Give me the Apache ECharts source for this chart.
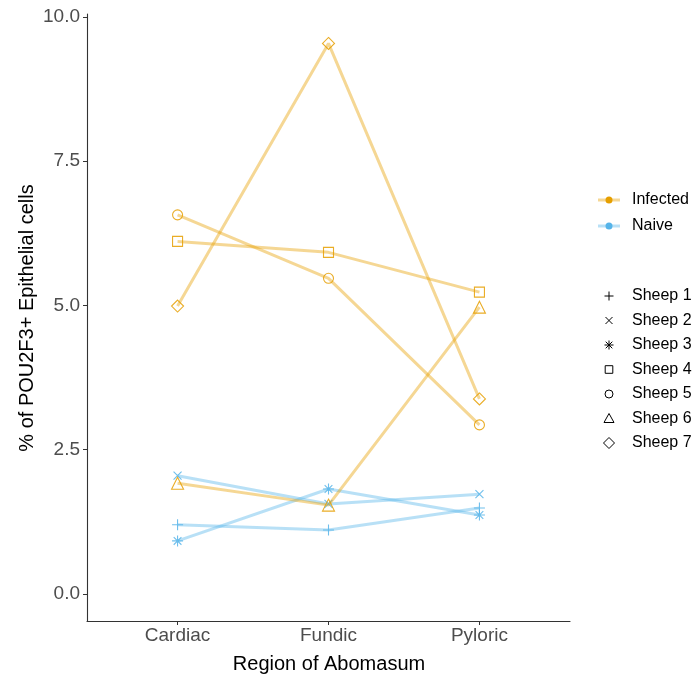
<!DOCTYPE html>
<html>
<head>
<meta charset="utf-8">
<script src="https://cdn.jsdelivr.net/npm/echarts@6/dist/echarts.min.js"></script>
<style>html,body{margin:0;padding:0;background:#fff;}#c{width:696px;height:682px;}</style>
</head>
<body>
<div id="c"></div>
<script>
// ---- data ----
const categories = ['Cardiac', 'Fundic', 'Pyloric'];
const yTicks = [0, 2.5, 5, 7.5, 10];
const groups = ['Infected', 'Naive'];
const sheepNames = ['Sheep 1', 'Sheep 2', 'Sheep 3', 'Sheep 4', 'Sheep 5', 'Sheep 6', 'Sheep 7'];
const sheepGroup = ['Naive', 'Naive', 'Naive', 'Infected', 'Infected', 'Infected', 'Infected'];
const sheep1 = [1.20, 1.11, 1.49];
const sheep2 = [2.05, 1.56, 1.73];
const sheep3 = [0.92, 1.82, 1.37];
const sheep4 = [6.11, 5.92, 5.23];
const sheep5 = [6.57, 5.47, 2.93];
const sheep6 = [1.92, 1.54, 4.97];
const sheep7 = [4.99, 9.54, 3.38];
const sheepValues = [sheep1, sheep2, sheep3, sheep4, sheep5, sheep6, sheep7];

// ---- styling ----
const groupColor = { Infected: '#E69F00', Naive: '#56B4E9' };
const P_PLUS = 'path://M5,0L5,10M0,5L10,5';
const P_X = 'path://M0,0L10,10M10,0L0,10';
const P_AST = 'path://M5,0L5,10M0,5L10,5M1.5,1.5L8.5,8.5M8.5,1.5L1.5,8.5';
const symbols = [P_PLUS, P_X, P_AST, 'rect', 'circle', 'triangle', 'diamond'];
const symSizes = [11, 8, 11, 10, 10, 12, 12];

const series = sheepNames.map((name, i) => {
  const col = groupColor[sheepGroup[i]];
  return {
    name: name,
    type: 'line',
    data: sheepValues[i].map((v, j) => [j + 1, v]),
    symbol: symbols[i],
    symbolSize: symSizes[i],
    showSymbol: true,
    lineStyle: { color: col, width: 3, opacity: 0.42 },
    itemStyle: { color: 'rgba(0,0,0,0)', borderColor: col, borderWidth: 1.1, opacity: 0.85 },
    emphasis: { disabled: true },
    silent: true,
    z: sheepGroup[i] === 'Infected' ? 3 : 2
  };
});

// ---- legend as graphics ----
const font = 'Liberation Sans, Arial, sans-serif';
const graphic = [];
graphic.push({
  type: 'text', x: 27, y: 318, rotation: Math.PI / 2,
  style: { text: '% of POU2F3+ Epithelial cells', font: '20px ' + font, fill: '#000', align: 'center', verticalAlign: 'middle' }
});
graphic.push({
  type: 'text', x: 329, y: 664,
  style: { text: 'Region of Abomasum', font: '20px ' + font, fill: '#000', align: 'center', verticalAlign: 'middle' }
});
groups.forEach((g, i) => {
  const y = 200 + i * 26;
  graphic.push({ type: 'line', shape: { x1: 598, y1: y, x2: 620, y2: y }, style: { stroke: groupColor[g], lineWidth: 3, opacity: 0.42 } });
  graphic.push({ type: 'circle', shape: { cx: 609, cy: y, r: 3.5 }, style: { fill: groupColor[g] } });
  graphic.push({ type: 'text', x: 632, y: y, style: { text: g, font: '16px ' + font, fill: '#000', verticalAlign: 'middle' } });
});
const legSym = (i, cx, cy) => {
  const st = { stroke: '#000', fill: 'none', lineWidth: 1 };
  const s = 4.5;
  switch (i) {
    case 0: return { type: 'group', children: [
      { type: 'line', shape: { x1: cx - s, y1: cy, x2: cx + s, y2: cy }, style: st },
      { type: 'line', shape: { x1: cx, y1: cy - s, x2: cx, y2: cy + s }, style: st }] };
    case 1: return { type: 'group', children: [
      { type: 'line', shape: { x1: cx - 3.5, y1: cy - 3.5, x2: cx + 3.5, y2: cy + 3.5 }, style: st },
      { type: 'line', shape: { x1: cx + 3.5, y1: cy - 3.5, x2: cx - 3.5, y2: cy + 3.5 }, style: st }] };
    case 2: return { type: 'group', children: [
      { type: 'line', shape: { x1: cx - s, y1: cy, x2: cx + s, y2: cy }, style: st },
      { type: 'line', shape: { x1: cx, y1: cy - s, x2: cx, y2: cy + s }, style: st },
      { type: 'line', shape: { x1: cx - 3.3, y1: cy - 3.3, x2: cx + 3.3, y2: cy + 3.3 }, style: st },
      { type: 'line', shape: { x1: cx + 3.3, y1: cy - 3.3, x2: cx - 3.3, y2: cy + 3.3 }, style: st }] };
    case 3: return { type: 'rect', shape: { x: cx - 3.8, y: cy - 3.8, width: 7.6, height: 7.6 }, style: st };
    case 4: return { type: 'circle', shape: { cx: cx, cy: cy, r: 4 }, style: st };
    case 5: return { type: 'polygon', shape: { points: [[cx, cy - 5], [cx + 5, cy + 4], [cx - 5, cy + 4]] }, style: st };
    default: return { type: 'polygon', shape: { points: [[cx, cy - 5.5], [cx + 5.5, cy], [cx, cy + 5.5], [cx - 5.5, cy]] }, style: st };
  }
};
sheepNames.forEach((n, i) => {
  const y = 296 + i * 24.5;
  graphic.push(legSym(i, 609, y));
  graphic.push({ type: 'text', x: 632, y: y, style: { text: n, font: '16px ' + font, fill: '#000', verticalAlign: 'middle' } });
});

const chart = echarts.init(document.getElementById('c'), null, { renderer: 'canvas' });
chart.setOption({
  animation: false,
  backgroundColor: '#fff',
  grid: { left: 87, right: 126, top: 14, bottom: 61, containLabel: false },
  xAxis: {
    type: 'value', min: 0.4, max: 3.6,
    axisLine: { show: true, onZero: false, lineStyle: { color: '#333', width: 1.1 } },
    axisTick: { show: true, length: 4, lineStyle: { color: '#333' }, customValues: [1, 2, 3] },
    axisLabel: { customValues: [1, 2, 3], formatter: v => categories[Math.round(v) - 1], color: '#4D4D4D', fontSize: 19, fontFamily: font, margin: 5 },
    splitLine: { show: false }
  },
  yAxis: {
    type: 'value', min: -0.468, max: 10.05,
    axisLine: { show: true, onZero: false, lineStyle: { color: '#333', width: 1.1 } },
    axisTick: { show: true, length: 4, lineStyle: { color: '#333' }, customValues: yTicks },
    axisLabel: { customValues: yTicks, formatter: v => v.toFixed(1), color: '#4D4D4D', fontSize: 19, fontFamily: font, margin: 7 },
    splitLine: { show: false }
  },
  series: series,
  graphic: graphic
});
</script>
</body>
</html>
